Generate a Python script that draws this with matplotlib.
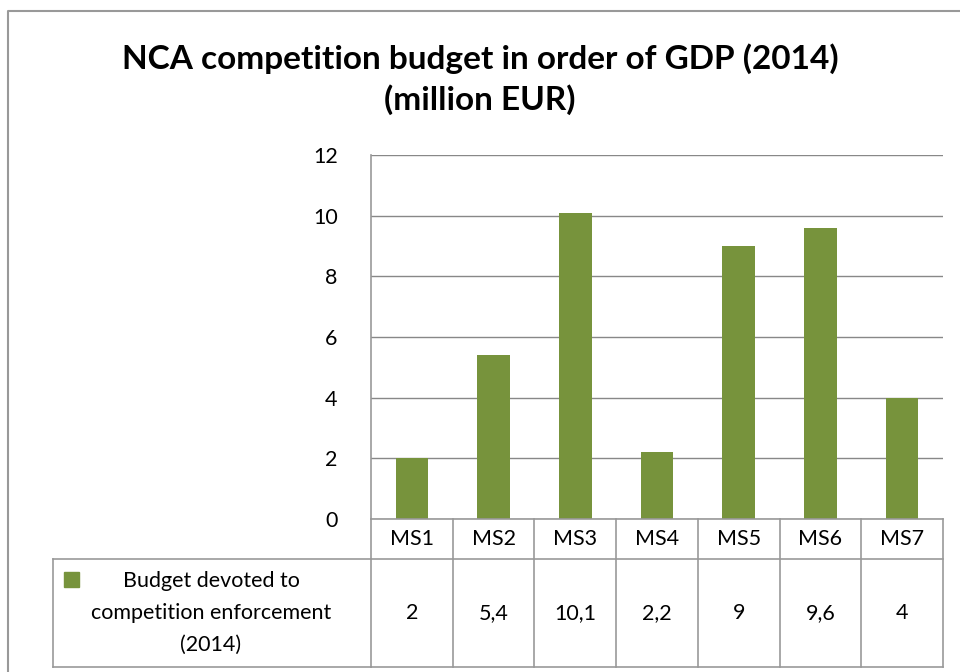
import matplotlib
matplotlib.use("Agg")
import matplotlib.pyplot as plt
from matplotlib.lines import Line2D
from matplotlib.patches import Rectangle
import matplotlib.transforms as mtrans

plt.rcParams['font.family'] = ['Lato', 'DejaVu Sans']

categories = ["MS1", "MS2", "MS3", "MS4", "MS5", "MS6", "MS7"]
budget = [2, 5.4, 10.1, 2.2, 9, 9.6, 4]
value_labels = ["2", "5,4", "10,1", "2,2", "9", "9,6", "4"]
series_name = "Budget devoted to\ncompetition enforcement\n(2014)"
title = "NCA competition budget in order of GDP (2014)\n(million EUR)"
yticks = [0, 2, 4, 6, 8, 10, 12]

W, H = 960, 672
BAR = "#77933C"
GRID = "#888888"
EDGE = "#999999"
FS = 15.5

fig = plt.figure(figsize=(W / 100, H / 100), dpi=100)


def fx(px):
    return px / W


def fy(py):
    return 1 - py / H


# plot area
left, right, top, base = 371, 943, 155, 519
ax = fig.add_axes([fx(left), fy(base), fx(right - left), (base - top) / H])
x = range(len(categories))
ax.bar(x, budget, width=0.4, color=BAR, zorder=3)
ax.set_xlim(-0.5, len(categories) - 0.5)
ax.set_ylim(0, 12)
ax.set_yticks(yticks)
ax.set_yticklabels([str(t) for t in yticks], fontsize=FS)
ax.set_xticks([])
ax.tick_params(axis='y', length=0, pad=24)
ax.yaxis.grid(True, color=GRID, linewidth=1.0)
ax.set_axisbelow(True)
for s in ["top", "right", "bottom"]:
    ax.spines[s].set_visible(False)
ax.spines["left"].set_color(EDGE)
ax.spines["left"].set_linewidth(1.2)

# data table below the axis
bt = mtrans.blended_transform_factory(ax.transData, fig.transFigure)
ft = fig.transFigure
row1_bot, row2_bot = 559, 667
table_left = 53


def hline(x0, x1, y, trans):
    fig.add_artist(Line2D([x0, x1], [fy(y), fy(y)], transform=trans,
                          color=EDGE, linewidth=1.2))


def vline(xv, y0, y1, trans):
    fig.add_artist(Line2D([xv, xv], [fy(y0), fy(y1)], transform=trans,
                          color=EDGE, linewidth=1.2))


n = len(categories)
hline(-0.5, n - 0.5, base, bt)
hline(-0.5, n - 0.5, row1_bot, bt)
hline(-0.5, n - 0.5, row2_bot, bt)
hline(fx(table_left), fx(left), row1_bot, ft)
hline(fx(table_left), fx(left), row2_bot, ft)
vline(fx(table_left), row1_bot, row2_bot, ft)
for i in range(n + 1):
    vline(i - 0.5, base, row2_bot, bt)

for i, (c, v) in enumerate(zip(categories, value_labels)):
    fig.text(i, fy((base + row1_bot) / 2), c, transform=bt,
             ha='center', va='center', fontsize=FS)
    fig.text(i, fy((row1_bot + row2_bot) / 2), v, transform=bt,
             ha='center', va='center', fontsize=FS)

# legend key and series name
fig.add_artist(Rectangle((fx(64), fy(587)), fx(15), 15 / H, transform=ft,
                         color=BAR))
fig.text(fx(211), fy((row1_bot + row2_bot) / 2), series_name,
         ha='center', va='center', fontsize=FS, linespacing=1.72)

# outer chart frame
fig.add_artist(Line2D([fx(8), fx(8), fx(W + 5)], [fy(H + 5), fy(11), fy(11)],
                      transform=ft, color=EDGE, linewidth=1.5))

fig.text(0.5, fy(79), title, ha='center', va='center', fontsize=24,
         fontweight='bold', linespacing=1.4)

fig.savefig("out.png", dpi=100)
